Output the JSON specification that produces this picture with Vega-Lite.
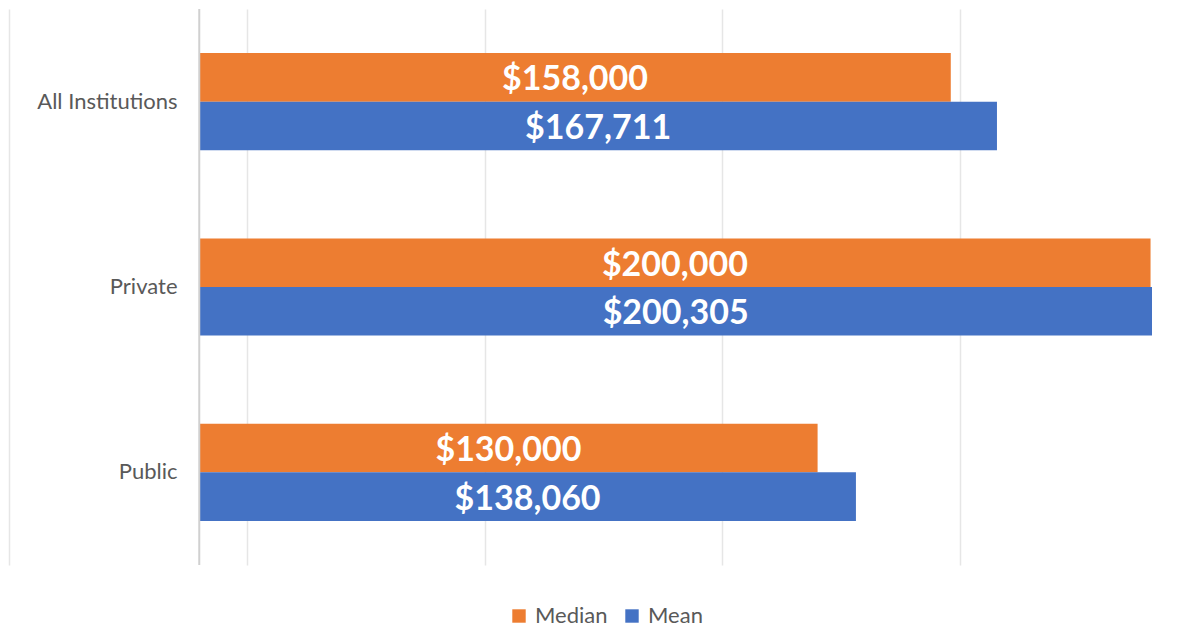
{
  "$schema": "https://vega.github.io/schema/vega-lite/v6.json",
  "width": 1143,
  "height": 556,
  "autosize": {"type": "none"},
  "padding": {"left": 9, "top": 9, "right": 39, "bottom": 63},
  "background": "white",
  "config": {"view": {"stroke": null}, "font": "Lato"},
  "data": {"values": [
    {"group": "All Institutions", "measure": "Median", "value": 158000, "label": "$158,000"},
    {"group": "All Institutions", "measure": "Mean", "value": 167711, "label": "$167,711"},
    {"group": "Private", "measure": "Median", "value": 200000, "label": "$200,000"},
    {"group": "Private", "measure": "Mean", "value": 200305, "label": "$200,305"},
    {"group": "Public", "measure": "Median", "value": 130000, "label": "$130,000"},
    {"group": "Public", "measure": "Mean", "value": 138060, "label": "$138,060"}
  ]},
  "resolve": {"scale": {"x": "independent"}},
  "layer": [
    {
      "mark": {"type": "bar"},
      "encoding": {
        "y": {"field": "group", "type": "nominal", "sort": ["All Institutions", "Private", "Public"],
          "scale": {"paddingInner": 0.476, "paddingOuter": 0.238},
          "axis": {"title": null, "orient": "left", "offset": -191, "domain": false, "ticks": false, "labelPadding": 23, "labelFontSize": 22, "labelColor": "#595959", "labelFont": "Lato"}},
        "yOffset": {"field": "measure", "type": "nominal", "sort": ["Median", "Mean"], "scale": {"paddingInner": 0, "paddingOuter": 0}},
        "x": {"field": "value", "type": "quantitative",
          "scale": {"domain": [-40000, 200305], "nice": false, "zero": false},
          "axis": {"values": [-40000, 10000, 60000, 110000, 160000], "title": null, "labels": false, "ticks": false, "domain": false, "grid": true, "gridColor": "#e6e6e6", "gridWidth": 1.5}},
        "x2": {"datum": 0},
        "color": {"field": "measure", "type": "nominal",
          "scale": {"domain": ["Median", "Mean"], "range": ["#ED7D31", "#4472C4"]},
          "legend": {"title": null, "orient": "none", "direction": "horizontal", "legendX": 499, "legendY": 596, "symbolType": "square", "symbolSize": 180, "symbolStrokeWidth": 0, "symbolOpacity": 1, "labelFontSize": 22, "labelColor": "#595959", "labelFont": "Lato", "columnPadding": 13, "labelOffset": 5}}
      }
    },
    {
      "data": {"values": [{}]},
      "mark": {"type": "rule", "color": "#d0d0d0", "strokeWidth": 2},
      "encoding": {
        "x": {"datum": 0, "type": "quantitative", "scale": {"domain": [-40000, 200305], "nice": false, "zero": false}, "axis": null}
      }
    },
    {
      "mark": {"type": "text", "color": "white", "fontWeight": "bold", "fontSize": 34, "font": "Lato", "align": "center", "baseline": "middle", "dy": 3},
      "encoding": {
        "y": {"field": "group", "type": "nominal", "sort": ["All Institutions", "Private", "Public"]},
        "yOffset": {"field": "measure", "type": "nominal", "sort": ["Median", "Mean"]},
        "x": {"field": "value", "type": "quantitative", "scale": {"domain": [-80000, 400610], "nice": false, "zero": false}, "axis": null},
        "text": {"field": "label"}
      }
    }
  ]
}
